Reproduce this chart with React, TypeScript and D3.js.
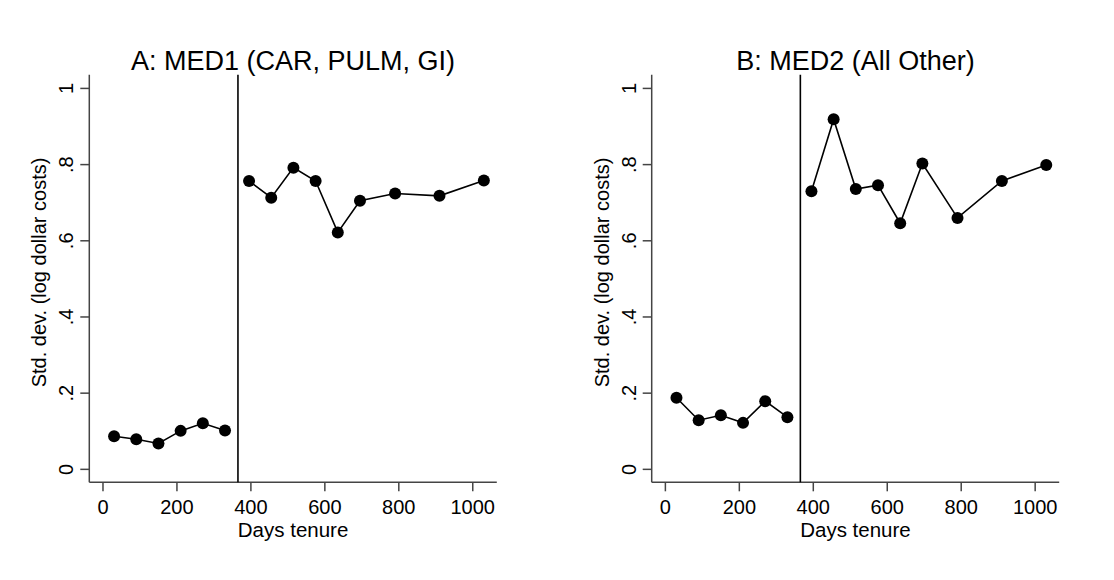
import React from 'react';
import * as d3 from 'd3';

// days tenure at each point (same for both panels)
const daysBefore = [30, 90, 150, 210, 270, 330];
const daysAfter = [395, 455, 515, 575, 635, 695, 790, 910, 1030];

// panel A: MED1 (CAR, PULM, GI)
const med1Before = [0.087, 0.079, 0.068, 0.101, 0.121, 0.102];
const med1After = [0.757, 0.713, 0.792, 0.757, 0.622, 0.705, 0.724, 0.718, 0.758];

// panel B: MED2 (All Other)
const med2Before = [0.188, 0.129, 0.142, 0.122, 0.179, 0.137];
const med2After = [0.73, 0.919, 0.736, 0.746, 0.646, 0.803, 0.66, 0.757, 0.799];

const xTicks = [0, 200, 400, 600, 800, 1000];
const yTicks = [0, 0.2, 0.4, 0.6, 0.8, 1];
const yTickLabels = ['0', '.2', '.4', '.6', '.8', '1'];
const cutoffDay = 365;

const FONT = '"Liberation Sans", Arial, Helvetica, sans-serif';

type PanelProps = {
  title: string;
  left: number;
  before: number[];
  after: number[];
};

const Panel = ({ title, left, before, after }: PanelProps) => {
  const top = 74.7;
  const bottom = 482.3;
  const width = 407.5;

  const x = d3.scaleLinear().domain([-37, 1065]).range([left, left + width]);
  const y = d3.scaleLinear().domain([-0.034, 1.036]).range([bottom, top]);

  const line = d3.line<[number, number]>()
    .x(d => x(d[0]))
    .y(d => y(d[1]));

  const seg1 = daysBefore.map((d, i) => [d, before[i]] as [number, number]);
  const seg2 = daysAfter.map((d, i) => [d, after[i]] as [number, number]);

  return (
    <g fontFamily={FONT}>
      <text x={left + width / 2} y={70} textAnchor="middle" fontSize={27}>{title}</text>

      {/* y axis */}
      <line x1={left} x2={left} y1={top} y2={bottom} stroke="#444" strokeWidth={1.5} />
      {yTicks.map((t, i) => (
        <g key={t}>
          <line x1={left - 9} x2={left} y1={y(t)} y2={y(t)} stroke="#444" strokeWidth={1.5} />
          <text
            transform={`translate(${left - 16},${y(t)}) rotate(-90)`}
            textAnchor="middle"
            fontSize={20}
          >{yTickLabels[i]}</text>
        </g>
      ))}
      <text
        transform={`translate(${left - 43},${(top + bottom) / 2 - 6}) rotate(-90)`}
        textAnchor="middle"
        fontSize={20}
      >Std. dev. (log dollar costs)</text>

      {/* x axis */}
      <line x1={left} x2={left + width} y1={bottom} y2={bottom} stroke="#444" strokeWidth={1.5} />
      {xTicks.map(t => (
        <g key={t}>
          <line x1={x(t)} x2={x(t)} y1={bottom} y2={bottom + 9} stroke="#444" strokeWidth={1.5} />
          <text x={x(t)} y={513.5} textAnchor="middle" fontSize={20}>{t}</text>
        </g>
      ))}
      <text x={left + width / 2} y={536.5} textAnchor="middle" fontSize={20.5}>Days tenure</text>

      {/* tenure cutoff */}
      <line x1={x(cutoffDay)} x2={x(cutoffDay)} y1={top} y2={bottom} stroke="#000" strokeWidth={1.6} />

      {[seg1, seg2].map((seg, k) => (
        <g key={k}>
          <path d={line(seg) || ''} fill="none" stroke="#000" strokeWidth={1.6} />
          {seg.map((p, i) => (
            <circle key={i} cx={x(p[0])} cy={y(p[1])} r={6} fill="#000" />
          ))}
        </g>
      ))}
    </g>
  );
};

const App = () => {
  return (
    <svg
      width={1114}
      height={580}
      style={{ position: 'absolute', left: 0, top: 0, background: '#fff' }}
    >
      <rect width={1114} height={580} fill="#fff" />
      <Panel title="A: MED1 (CAR, PULM, GI)" left={89.3} before={med1Before} after={med1After} />
      <Panel title="B: MED2 (All Other)" left={651.7} before={med2Before} after={med2After} />
    </svg>
  );
};

export default App;
